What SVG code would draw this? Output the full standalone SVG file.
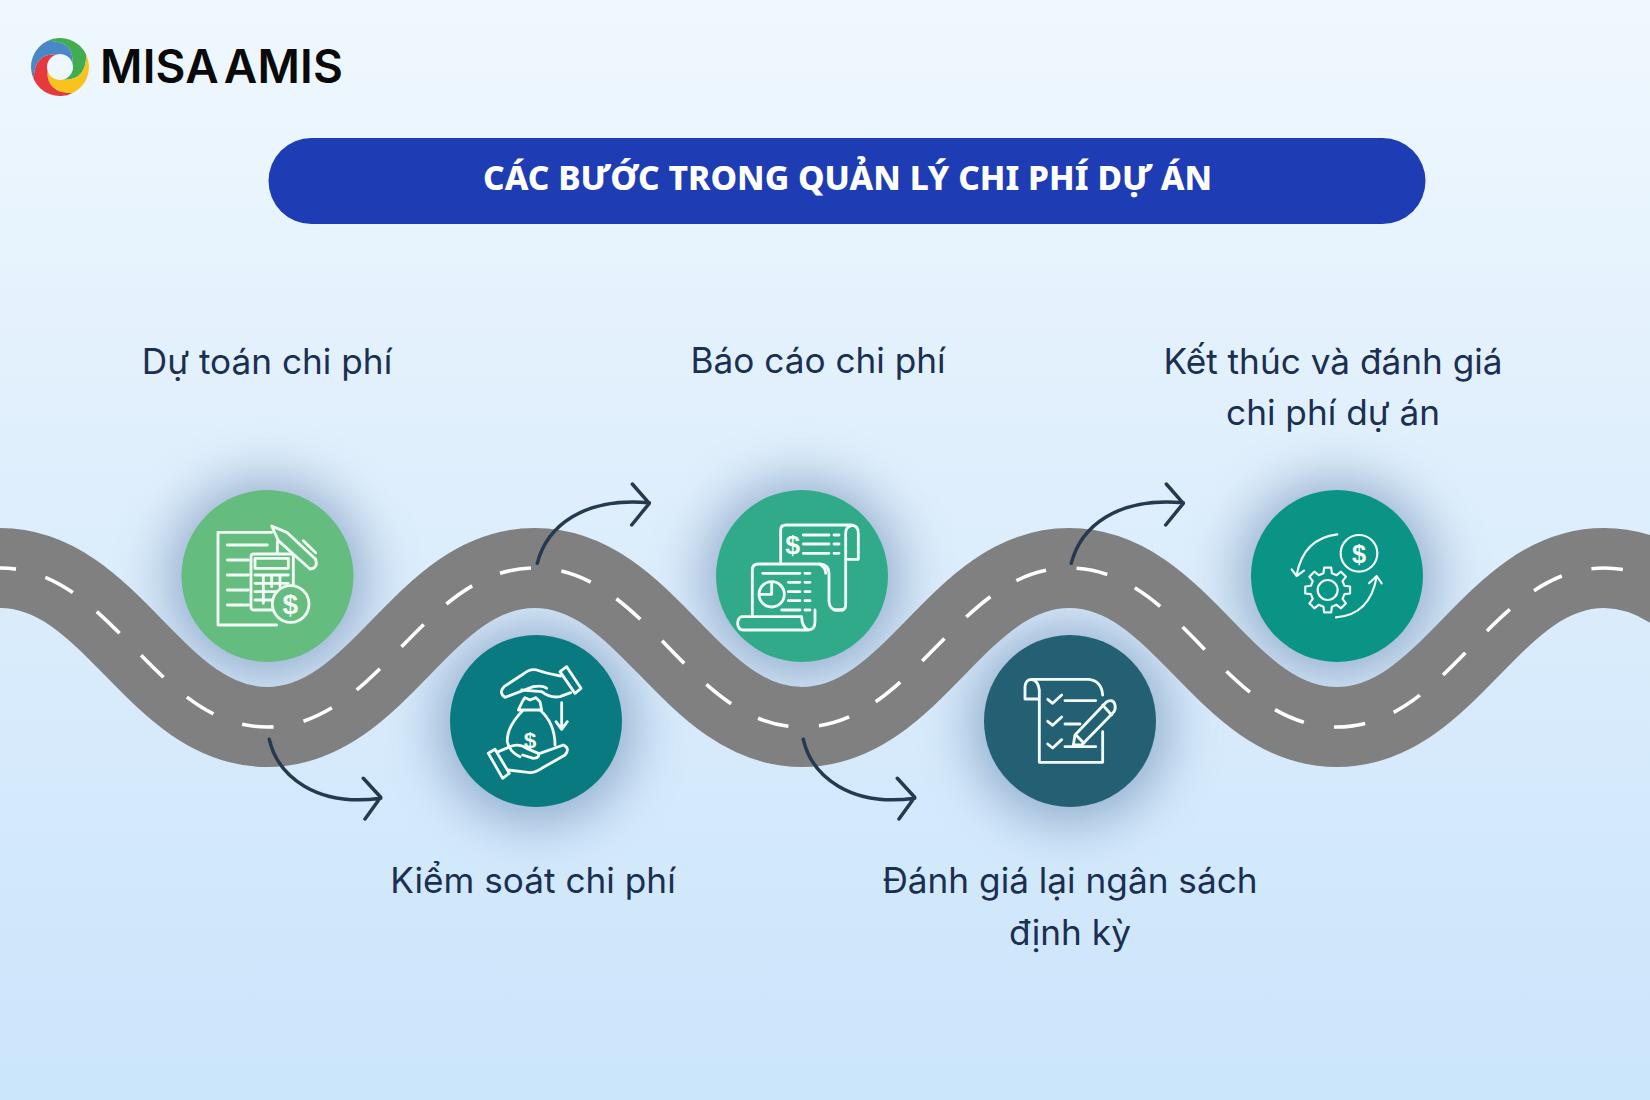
<svg xmlns="http://www.w3.org/2000/svg" xmlns:xlink="http://www.w3.org/1999/xlink" width="1650" height="1100" viewBox="0 0 1650 1100">
<style>
.lbl{font-family:Inter,"Noto Sans",sans-serif;font-size:35.2px;fill:#1b2f52;text-anchor:middle}
.ic{fill:none;stroke:#f3fbf6;stroke-width:8.5;stroke-linecap:round;stroke-linejoin:round}
.dl{font-family:"Liberation Sans",sans-serif;font-weight:700;fill:#f3fbf6;text-anchor:middle;stroke:none}
.road{fill:none;stroke:#808080;stroke-width:80}
.dash{fill:none;stroke:#fff;stroke-width:3.6;stroke-dasharray:31.5 30.6;stroke-dashoffset:15.5}
.con{fill:none;stroke:#25394f;stroke-width:3.5;stroke-linecap:round;stroke-linejoin:round}
</style>
<defs>
<linearGradient id="bg" x1="0" y1="0" x2="0" y2="1"><stop offset="0" stop-color="#f0f8fe"/><stop offset=".5" stop-color="#dcedfc"/><stop offset="1" stop-color="#cbe5fb"/></linearGradient>
<filter id="blur" x="-80%" y="-80%" width="260%" height="260%"><feGaussianBlur stdDeviation="26"/></filter>
<path id="blade" d="M-12.26,-26.28A29,29 0 0 1 26.28,-12.26Q26,14 3.36,12.56A13,13 0 0 0 12.56,-3.36Q14,-26 -12.26,-26.28Z"/>
</defs>
<rect width="1650" height="1100" fill="url(#bg)"/>
<g id="shadows" fill="#5f7ea8" opacity=".55" filter="url(#blur)">
<circle cx="267.5" cy="578" r="100"/><circle cx="536" cy="724" r="100"/><circle cx="802" cy="578" r="100"/><circle cx="1070" cy="724" r="100"/><circle cx="1337" cy="578" r="100"/>
</g>
<g id="logo">
<g transform="translate(60,67)">
<use xlink:href="#blade" fill="#41ad50"/>
<use xlink:href="#blade" fill="#f8c31c" transform="rotate(90)"/>
<use xlink:href="#blade" fill="#e6383f" transform="rotate(180)"/>
<use xlink:href="#blade" fill="#4a87c7" transform="rotate(270)"/>
</g>
<text x="100" y="82.7" font-family="Inter,sans-serif" font-weight="600" font-size="46" fill="#0a0a0a" word-spacing="-7" textLength="243">MISA AMIS</text>
</g>
<g id="title">
<rect x="268.5" y="138" width="1157" height="86" rx="43" fill="#1e3cb4"/>
<text x="847.5" y="190" font-family="'Noto Sans',sans-serif" font-weight="800" font-size="33.5" fill="#fff" text-anchor="middle" textLength="729">CÁC BƯỚC TRONG QUẢN LÝ CHI PHÍ DỰ ÁN</text>
</g>
<g id="road">
<path class="road" d="M0,568C112,568 155,727 267.3,727S422,568 534.7,568S690,727 802,727S957,568 1069.3,568S1224,727 1336.7,727S1492,568 1604,568S1760,727 1871,727"/>
<path class="dash" d="M0,568C112,568 155,727 267.3,727S422,568 534.7,568S690,727 802,727S957,568 1069.3,568S1224,727 1336.7,727S1492,568 1604,568S1760,727 1871,727"/>
</g>
<g id="connectors">
<path class="con" d="M269.3,739.3C278,777 317,807 380.7,798.3M363.3,778.3L380.7,797.3L365,819"/>
<path class="con" d="M537.3,563.3C546.7,526.7 583,496.7 649.3,502.7M632.3,484L649.3,503.3L631.7,525"/>
<path class="con" d="M803.3,739.3C812,777 851,807 914.7,798.3M897.3,778.3L914.7,797.3L899,819"/>
<path class="con" d="M1071.3,563.3C1080.7,526.7 1117,496.7 1183.3,502.7M1166.3,484L1183.3,503.3L1165.7,525"/>
</g>
<g id="node1">
<circle cx="267.5" cy="576" r="86" fill="#64bd7e"/>
<g class="ic" transform="translate(150,470) scale(.33333)">
<path d="M380,465H204V187H365M232,225H352M232,270H295M232,315H295M232,360H295M232,405H295"/>
<path d="M365,168L412,188L497,268Q505,295 480,297L385,212ZM460,212L497,248M382,215V250"/>
<rect x="303" y="252" width="127" height="168" rx="8"/>
<rect x="315" y="265" width="100" height="30"/>
<path d="M315,315H415M315,340H415M315,365H390M315,390H370M340,315V400M365,315V350M390,315V350"/>
<circle cx="422" cy="402" r="55" fill="#64bd7e"/>
<text class="dl" x="421" y="432" font-size="84">$</text>
</g>
<text class="lbl" x="267" y="374">Dự toán chi phí</text>
</g>
<g id="node2">
<circle cx="536" cy="721" r="86" fill="#097a80"/>
<g class="ic" transform="translate(150,470) scale(.33333)">
<path d="M1232,618Q1190,610 1160,600Q1140,595 1120,612L1062,650Q1045,668 1065,682L1150,650Q1180,645 1190,655M1115,660L1175,665Q1200,685 1230,680L1262,668"/>
<path d="M1250,590L1293,655L1275,670L1230,605Z"/>
<path d="M1118,693L1125,683L1140,690L1158,683L1170,695L1175,720H1105ZM1120,720Q1070,770 1072,815Q1078,845 1110,860M1170,720Q1215,760 1215,825"/>
<text class="dl" x="1140" y="835" font-size="68">$</text>
<path d="M1235,698V775M1218,755L1235,778L1252,755"/>
<path d="M1015,850L1058,925L1078,910L1035,838Z"/>
<path d="M1045,845L1085,828Q1110,820 1130,835L1165,850Q1170,865 1150,865L1118,855M1075,900L1140,908Q1155,908 1175,895L1245,855Q1262,835 1240,825L1170,850"/>
</g>
<text class="lbl" x="533" y="893">Kiểm soát chi phí</text>
</g>
<g id="node3">
<circle cx="802" cy="576" r="86" fill="#30aa88"/>
<g class="ic" transform="translate(680,470) scale(.33333)">
<path d="M302,275V180Q302,165 318,165H515Q535,167 535,190V268H497V190Q497,170 515,167M497,268V405Q497,420 480,420H462"/>
<path d="M370,195H447M370,222H447M370,250H447M462,195H477M462,222H477M462,250H477"/>
<text class="dl" x="338" y="252" font-size="80">$</text>
<path d="M217,435V300Q217,282 235,282H420Q447,285 447,310V395Q450,420 470,420H490M415,282Q437,290 437,310"/>
<path d="M248,310H360M375,310H390M325,337H360M375,337H390M325,365H360M375,365H390M325,392H360M375,392H390M305,420H360M375,420H390"/>
<circle cx="275" cy="373" r="38"/><path d="M275,340V373H240"/>
<path d="M365,440H185Q172,445 173,462Q175,480 190,480H385Q405,478 405,455V420M365,440Q365,470 385,480"/>
</g>
<text class="lbl" x="818" y="373">Báo cáo chi phí</text>
</g>
<g id="node4">
<circle cx="1070" cy="721" r="86" fill="#246073"/>
<g class="ic" transform="translate(680,470) scale(.33333)">
<path d="M1075,687H1035V650Q1037,628 1055,628H1225Q1265,632 1268,675M1055,628Q1075,632 1078,660V877H1268V785"/>
<path d="M1103,688L1118,700L1145,675M1103,754L1118,766L1145,741M1103,822L1118,834L1145,809M1155,692H1247M1155,762H1200M1155,830H1247"/>
<path d="M1180,825L1185,795L1280,695Q1300,685 1305,705Q1308,720 1298,730L1205,825ZM1190,797L1212,820M1268,705L1295,735"/>
</g>
<text class="lbl" x="1070" y="893">Đánh giá lại ngân sách</text>
<text class="lbl" x="1070" y="945">định kỳ</text>
</g>
<g id="node5">
<circle cx="1337" cy="576" r="86" fill="#0a9486"/>
<g class="ic" style="stroke-width:6.5" transform="translate(1180,470) scale(.33333)">
<circle cx="537" cy="250" r="55"/>
<text class="dl" x="537" y="278" font-size="76">$</text>
<polygon transform="translate(443,360)" points="50.5,-12.6 67.2,-10.6 67.2,10.6 50.5,12.6 44.6,26.8 55,40 40,55 26.8,44.6 12.6,50.5 10.6,67.2 -10.6,67.2 -12.6,50.5 -26.8,44.6 -40,55 -55,40 -44.6,26.8 -50.5,12.6 -67.2,10.6 -67.2,-10.6 -50.5,-12.6 -44.6,-26.8 -55,-40 -40,-55 -26.8,-44.6 -12.6,-50.5 -10.6,-67.2 10.6,-67.2 12.6,-50.5 26.8,-44.6 40,-55 55,-40 44.6,-26.8"/>
<circle cx="443" cy="360" r="30"/>
<path d="M472,193Q370,205 350,315M335,298L350,318L372,302M468,442Q570,435 590,320M567,340L590,318L605,340"/>
</g>
<text class="lbl" x="1333" y="374">Kết thúc và đánh giá</text>
<text class="lbl" x="1333" y="425">chi phí dự án</text>
</g>
</svg>
